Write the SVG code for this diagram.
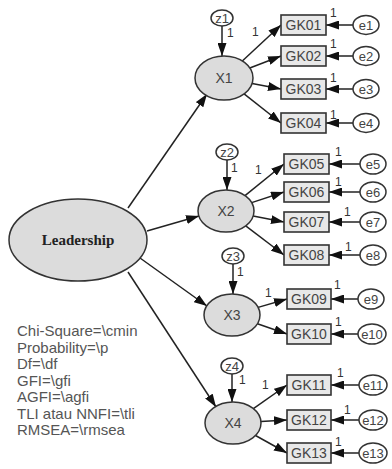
<svg xmlns="http://www.w3.org/2000/svg" width="392" height="469" viewBox="0 0 392 469">
<style>
.lat{fill:#dcdcdc;stroke:#333;stroke-width:1.5}
.err{fill:#fff;stroke:#333;stroke-width:1.5}
.box{fill:#e8e8e8;stroke:#333;stroke-width:1.6}
.ln{stroke:#222;stroke-width:1.5;fill:none;marker-end:url(#ah)}
.t{font-family:"Liberation Sans",Arial,sans-serif;fill:#444;text-anchor:middle}
.gk{font-size:14px}
.x{font-size:14px}
.e{font-size:13px}
.one{font-family:"Liberation Sans",Arial,sans-serif;font-size:12px;fill:#333}
.stat{font-family:"Liberation Sans",Arial,sans-serif;font-size:15px;fill:#555}
</style>
<defs>
<marker id="ah" markerUnits="userSpaceOnUse" markerWidth="13" markerHeight="9" refX="13" refY="4.5" orient="auto">
<path d="M0,0 L13,4.5 L0,9 z" fill="#111"/>
</marker>
</defs>
<g id="connectors">
<line class="ln" x1="128" y1="208" x2="207" y2="94"/>
<line class="ln" x1="147" y1="231" x2="199" y2="216"/>
<line class="ln" x1="140" y1="258" x2="207" y2="306"/>
<line class="ln" x1="128" y1="272" x2="216" y2="407"/>
<line class="ln" x1="222" y1="26" x2="222" y2="56"/>
<line class="ln" x1="227" y1="160" x2="227" y2="190"/>
<line class="ln" x1="233" y1="264" x2="233" y2="294"/>
<line class="ln" x1="232" y1="374" x2="232" y2="402"/>
<line class="ln" x1="242.3" y1="61" x2="281" y2="25"/>
<line class="ln" x1="249.8" y1="68" x2="281" y2="56"/>
<line class="ln" x1="252.1" y1="83.4" x2="281" y2="89"/>
<line class="ln" x1="244.1" y1="93.9" x2="281" y2="123"/>
<line class="ln" x1="245" y1="195.6" x2="284" y2="164"/>
<line class="ln" x1="251.7" y1="202.6" x2="284" y2="192"/>
<line class="ln" x1="253.1" y1="216.1" x2="284" y2="222"/>
<line class="ln" x1="245.7" y1="225.9" x2="284" y2="255"/>
<line class="ln" x1="258.1" y1="307.4" x2="287" y2="299"/>
<line class="ln" x1="257.4" y1="323.8" x2="287" y2="334"/>
<line class="ln" x1="253.4" y1="408.6" x2="287" y2="385"/>
<line class="ln" x1="260.9" y1="421.4" x2="287" y2="420"/>
<line class="ln" x1="255.5" y1="435.5" x2="287" y2="453"/>
<line class="ln" x1="353" y1="25" x2="326" y2="25"/>
<line class="ln" x1="353" y1="56" x2="326" y2="56"/>
<line class="ln" x1="353" y1="89" x2="326" y2="89"/>
<line class="ln" x1="353" y1="123" x2="326" y2="123"/>
<line class="ln" x1="360" y1="164" x2="329" y2="164"/>
<line class="ln" x1="360" y1="192" x2="329" y2="192"/>
<line class="ln" x1="360" y1="222" x2="329" y2="222"/>
<line class="ln" x1="360" y1="255" x2="329" y2="255"/>
<line class="ln" x1="358" y1="299" x2="331" y2="299"/>
<line class="ln" x1="358" y1="334" x2="331" y2="334"/>
<line class="ln" x1="359" y1="385" x2="331" y2="385"/>
<line class="ln" x1="359" y1="420" x2="331" y2="420"/>
<line class="ln" x1="359" y1="453" x2="331" y2="453"/>
<text class="one" x="227" y="37">1</text>
<text class="one" x="231" y="172">1</text>
<text class="one" x="237" y="276">1</text>
<text class="one" x="239" y="384">1</text>
<text class="one" x="252" y="36">1</text>
<text class="one" x="255" y="174">1</text>
<text class="one" x="265" y="297">1</text>
<text class="one" x="262" y="389">1</text>
<text class="one" x="330" y="17">1</text>
<text class="one" x="330" y="48">1</text>
<text class="one" x="330" y="82">1</text>
<text class="one" x="330" y="119">1</text>
<text class="one" x="335" y="156">1</text>
<text class="one" x="335" y="186">1</text>
<text class="one" x="344" y="216">1</text>
<text class="one" x="345" y="251">1</text>
<text class="one" x="334" y="289">1</text>
<text class="one" x="335" y="326">1</text>
<text class="one" x="337" y="377">1</text>
<text class="one" x="344" y="414">1</text>
<text class="one" x="335" y="446">1</text>
</g>
<g id="leadership"><ellipse class="lat" cx="78" cy="240" rx="69" ry="41"/><text x="78" y="245" font-family="'Liberation Serif','Times New Roman',serif" font-size="15" font-weight="bold" fill="#222" text-anchor="middle">Leadership</text></g>
<g id="X1"><ellipse class="lat" cx="224" cy="78" rx="29" ry="22"/><text class="t x" x="224" y="83">X1</text></g>
<g id="X2"><ellipse class="lat" cx="226" cy="211" rx="28" ry="21"/><text class="t x" x="226" y="216">X2</text></g>
<g id="X3"><ellipse class="lat" cx="232" cy="315" rx="28" ry="21"/><text class="t x" x="232" y="320">X3</text></g>
<g id="X4"><ellipse class="lat" cx="233" cy="423" rx="28" ry="21"/><text class="t x" x="233" y="428">X4</text></g>
<g id="z1"><ellipse class="err" cx="222" cy="18" rx="11" ry="8"/><text class="t e" x="222" y="22.5">z1</text></g>
<g id="z2"><ellipse class="err" cx="227" cy="152" rx="11" ry="8"/><text class="t e" x="227" y="156.5">z2</text></g>
<g id="z3"><ellipse class="err" cx="233" cy="256" rx="11" ry="8"/><text class="t e" x="233" y="260.5">z3</text></g>
<g id="z4"><ellipse class="err" cx="232" cy="366" rx="11" ry="8"/><text class="t e" x="232" y="370.5">z4</text></g>
<g id="GK01"><rect class="box" x="281" y="15" width="45" height="20"/><text class="t gk" x="303.5" y="30">GK01</text></g>
<g id="GK02"><rect class="box" x="281" y="46" width="45" height="20"/><text class="t gk" x="303.5" y="61">GK02</text></g>
<g id="GK03"><rect class="box" x="281" y="79" width="45" height="20"/><text class="t gk" x="303.5" y="94">GK03</text></g>
<g id="GK04"><rect class="box" x="281" y="113" width="45" height="20"/><text class="t gk" x="303.5" y="128">GK04</text></g>
<g id="GK05"><rect class="box" x="284" y="154" width="45" height="20"/><text class="t gk" x="306.5" y="169">GK05</text></g>
<g id="GK06"><rect class="box" x="284" y="182" width="45" height="20"/><text class="t gk" x="306.5" y="197">GK06</text></g>
<g id="GK07"><rect class="box" x="284" y="212" width="45" height="20"/><text class="t gk" x="306.5" y="227">GK07</text></g>
<g id="GK08"><rect class="box" x="284" y="245" width="45" height="20"/><text class="t gk" x="306.5" y="260">GK08</text></g>
<g id="GK09"><rect class="box" x="287" y="289" width="44" height="20"/><text class="t gk" x="309" y="304">GK09</text></g>
<g id="GK10"><rect class="box" x="287" y="324" width="44" height="20"/><text class="t gk" x="309" y="339">GK10</text></g>
<g id="GK11"><rect class="box" x="287" y="375" width="44" height="20"/><text class="t gk" x="309" y="390">GK11</text></g>
<g id="GK12"><rect class="box" x="287" y="410" width="44" height="20"/><text class="t gk" x="309" y="425">GK12</text></g>
<g id="GK13"><rect class="box" x="287" y="443" width="44" height="20"/><text class="t gk" x="309" y="458">GK13</text></g>
<g id="e1"><ellipse class="err" cx="366" cy="25" rx="13" ry="9.5"/><text class="t e" x="366" y="29.5">e1</text></g>
<g id="e2"><ellipse class="err" cx="366" cy="56" rx="13" ry="9.5"/><text class="t e" x="366" y="60.5">e2</text></g>
<g id="e3"><ellipse class="err" cx="366" cy="89" rx="13" ry="9.5"/><text class="t e" x="366" y="93.5">e3</text></g>
<g id="e4"><ellipse class="err" cx="366" cy="123" rx="13" ry="9.5"/><text class="t e" x="366" y="127.5">e4</text></g>
<g id="e5"><ellipse class="err" cx="373" cy="164" rx="13" ry="10"/><text class="t e" x="373" y="168.5">e5</text></g>
<g id="e6"><ellipse class="err" cx="373" cy="192" rx="13" ry="10"/><text class="t e" x="373" y="196.5">e6</text></g>
<g id="e7"><ellipse class="err" cx="373" cy="222" rx="13" ry="10"/><text class="t e" x="373" y="226.5">e7</text></g>
<g id="e8"><ellipse class="err" cx="373" cy="255" rx="13" ry="10"/><text class="t e" x="373" y="259.5">e8</text></g>
<g id="e9"><ellipse class="err" cx="371" cy="299" rx="13" ry="10"/><text class="t e" x="371" y="303.5">e9</text></g>
<g id="e10"><ellipse class="err" cx="372" cy="334" rx="14" ry="10"/><text class="t e" x="372" y="338.5">e10</text></g>
<g id="e11"><ellipse class="err" cx="373" cy="385" rx="14" ry="10"/><text class="t e" x="373" y="389.5">e11</text></g>
<g id="e12"><ellipse class="err" cx="373" cy="420" rx="14" ry="10"/><text class="t e" x="373" y="424.5">e12</text></g>
<g id="e13"><ellipse class="err" cx="373" cy="453" rx="14" ry="10"/><text class="t e" x="373" y="457.5">e13</text></g>
<g id="stats">
<text class="stat" x="17" y="336">Chi-Square=\cmin</text>
<text class="stat" x="17" y="352.5">Probability=\p</text>
<text class="stat" x="17" y="369">Df=\df</text>
<text class="stat" x="17" y="385.5">GFI=\gfi</text>
<text class="stat" x="17" y="402">AGFI=\agfi</text>
<text class="stat" x="17" y="418.5">TLI atau NNFI=\tli</text>
<text class="stat" x="17" y="435">RMSEA=\rmsea</text>
</g>
</svg>
